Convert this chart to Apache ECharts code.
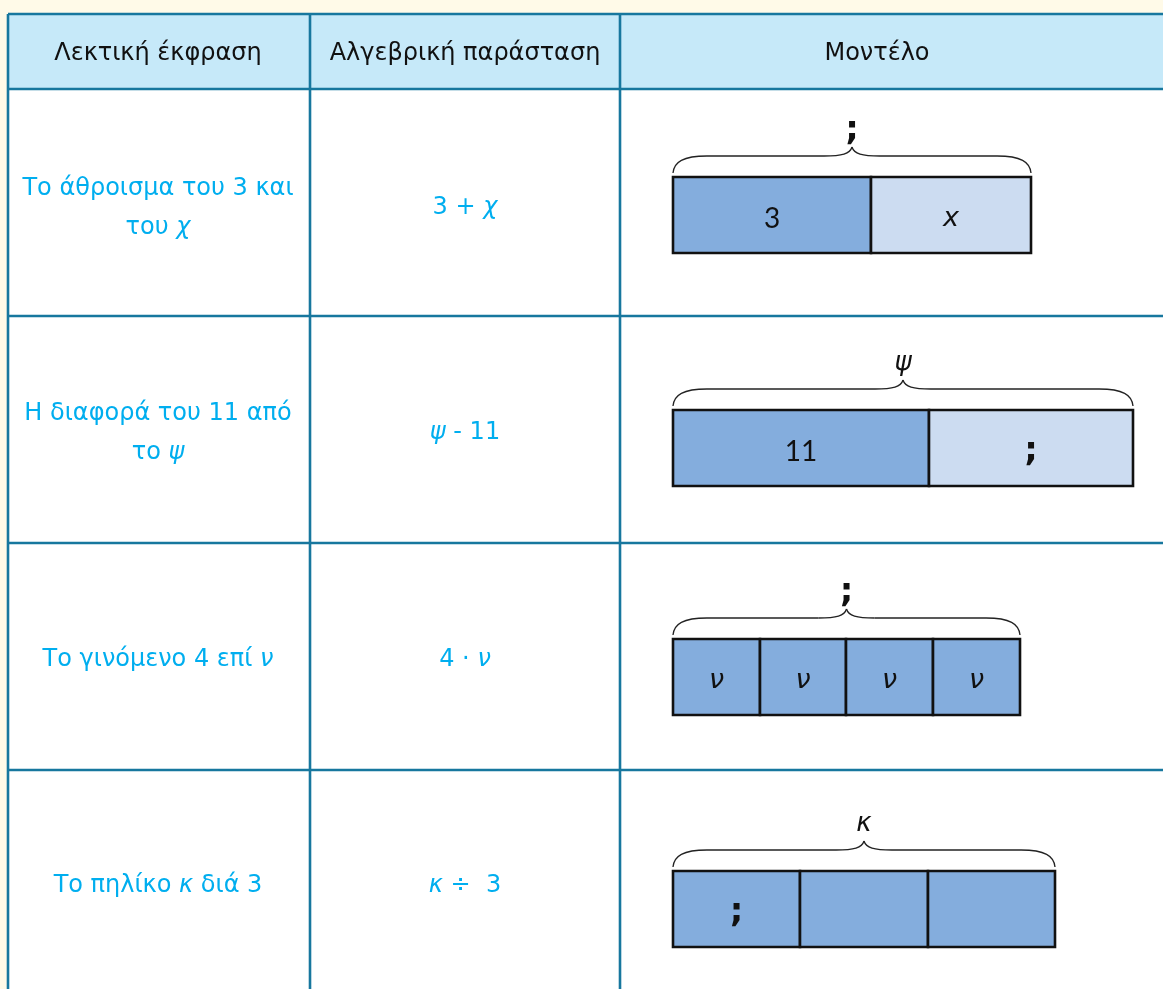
<!DOCTYPE html>
<html><head><meta charset="utf-8">
<script src="https://cdn.jsdelivr.net/npm/echarts@6/dist/echarts.min.js"></script>
<style>html,body{margin:0;padding:0;background:#FFFAE8;}#c{width:1163px;height:989px;}</style>
</head><body><div id="c"></div>
<script>
// ---- data ----
const headers = ['Λεκτική έκφραση', 'Αλγεβρική παράσταση', 'Μοντέλο'];
const verbal = ['Το άθροισμα του 3 και\nτου {i|χ}', 'Η διαφορά του 11 από\nτο {i|ψ}', 'Το γινόμενο 4 επί {i|ν}', 'Το πηλίκο {i|κ} διά 3'];
const algebraic = ['3 + {i|χ}', '{i|ψ} - 11', '4 · {i|ν}', '{i|κ} ÷  3'];
const segmentWidths = [[198, 160], [256, 204], [87, 86, 87, 87], [127, 128, 127]];
const segmentLabels = [['3', 'x'], ['11', ';'], ['ν', 'ν', 'ν', 'ν'], [';', '', '']];
const segmentKnown = [[1, 0], [1, 0], [1, 1, 1, 1], [1, 1, 1]];
const braceLabels = [';', 'ψ', ';', 'κ'];

// ---- layout ----
const W = 1163, H = 989;
const FONT = 'DejaVu Sans';
const BLUE = '#00AEEF';
const LINE = '#17779E';
const colLines = [8, 310, 620];
const colCenters = [158, 465, 877];
const rowLines = [14, 89, 316, 543, 770];
const textY = [208, 433, 660, 886];
const barX0 = 673, barH = 76;
const barTops = [177, 410, 639, 871];

const segData = [];
segmentWidths.forEach((ws, m) => {
  let s = barX0;
  ws.forEach((w, k) => { segData.push([m, k, s, w, segmentKnown[m][k]]); s += w; });
});
const braceData = segmentWidths.map((ws, m) => [m, barX0, ws.reduce((a, b) => a + b, 0)]);
const rowData = verbal.map((v, i) => [i]);

const graphics = [
  { type: 'rect', shape: { x: colLines[0], y: rowLines[0], width: W, height: H }, style: { fill: '#fff' }, z: -10 },
  { type: 'rect', shape: { x: colLines[0], y: rowLines[0], width: W, height: rowLines[1] - rowLines[0] }, style: { fill: '#C6E9F9' }, z: -9 }
];
colLines.forEach(x => graphics.push({ type: 'line', shape: { x1: x, y1: rowLines[0], x2: x, y2: H + 5 }, style: { stroke: LINE, lineWidth: 2.6 } }));
rowLines.forEach(y => graphics.push({ type: 'line', shape: { x1: colLines[0], y1: y, x2: W + 5, y2: y }, style: { stroke: LINE, lineWidth: 2.6 } }));
headers.forEach((h, i) => graphics.push({ type: 'text', x: colCenters[i], y: (rowLines[0] + rowLines[1]) / 2 + 2, style: { text: h, fill: '#111', font: '24px "' + FONT + '"', align: 'center', verticalAlign: 'middle' } }));

function labelStyle(t) {
  if (t === ';') return { fontSize: 34, fontWeight: 'bold', fontStyle: 'normal', fontFamily: FONT };
  if (/^[0-9]+$/.test(t)) return { fontSize: 28, fontWeight: 'normal', fontStyle: 'normal', fontFamily: 'Lato' };
  return { fontSize: 27, fontWeight: 'normal', fontStyle: 'italic', fontFamily: FONT };
}

const option = {
  backgroundColor: '#FFFAE8',
  animation: false,
  grid: { left: 0, right: 0, top: 0, bottom: 0, containLabel: false },
  xAxis: { type: 'value', min: 0, max: W, show: false },
  yAxis: { type: 'value', min: 0, max: H, inverse: true, show: false },
  graphic: graphics,
  series: [
    {
      type: 'custom', data: rowData, silent: true,
      renderItem: (params, api) => {
        const r = api.value(0);
        const p1 = api.coord([colCenters[0], textY[r]]);
        const p2 = api.coord([colCenters[1], textY[r]]);
        const rich = { i: { fontStyle: 'italic', fontSize: 24, fontFamily: FONT, fill: BLUE, lineHeight: 39 } };
        return { type: 'group', children: [
          { type: 'text', x: p1[0], y: p1[1], style: { text: verbal[r], rich, fill: BLUE, fontSize: 24, fontFamily: FONT, lineHeight: 39, align: 'center', verticalAlign: 'middle' } },
          { type: 'text', x: p2[0], y: p2[1], style: { text: algebraic[r], rich, fill: BLUE, fontSize: 24, fontFamily: FONT, lineHeight: 39, align: 'center', verticalAlign: 'middle' } }
        ] };
      }
    },
    {
      type: 'custom', data: segData, silent: true,
      renderItem: (params, api) => {
        const m = api.value(0), k = api.value(1), s = api.value(2), w = api.value(3), known = api.value(4);
        const a = api.coord([s, barTops[m]]);
        const b = api.coord([s + w, barTops[m] + barH]);
        const t = segmentLabels[m][k];
        const ls = labelStyle(t);
        return { type: 'group', children: [
          { type: 'rect', shape: { x: a[0], y: a[1], width: b[0] - a[0], height: b[1] - a[1] }, style: { fill: known ? '#84ADDD' : '#CCDCF1', stroke: '#111', lineWidth: 2.6 } },
          { type: 'text', x: (a[0] + b[0]) / 2, y: (a[1] + b[1]) / 2 + 4, style: { text: t, fill: '#111', fontFamily: ls.fontFamily, fontSize: ls.fontSize, fontWeight: ls.fontWeight, fontStyle: ls.fontStyle, align: 'center', verticalAlign: 'middle' } }
        ] };
      }
    },
    {
      type: 'custom', data: braceData, silent: true,
      renderItem: (params, api) => {
        const m = api.value(0), x0v = api.value(1), wv = api.value(2);
        const top = barTops[m];
        const L = api.coord([x0v, top - 4]);
        const R = api.coord([x0v + wv, top - 4]);
        const F = api.coord([x0v, top - 21]);
        const P = api.coord([x0v + wv / 2, top - 30]);
        const x0 = L[0], x1 = R[0], yE = L[1], yF = F[1], mx = P[0], yP = P[1];
        const st = { stroke: '#222', lineWidth: 1.3, fill: null };
        const t = braceLabels[m];
        const ls = labelStyle(t);
        const lab = api.coord([x0v + wv / 2, top - (t === ';' ? 46 : 47)]);
        return { type: 'group', children: [
          { type: 'bezierCurve', shape: { x1: x0, y1: yE, cpx1: x0 + 1, cpy1: yF + 6, cpx2: x0 + 10, cpy2: yF, x2: x0 + 34, y2: yF }, style: st },
          { type: 'line', shape: { x1: x0 + 34, y1: yF, x2: mx - 28, y2: yF }, style: st },
          { type: 'bezierCurve', shape: { x1: mx - 28, y1: yF, cpx1: mx - 10, cpy1: yF, cpx2: mx - 2, cpy2: yF - 2, x2: mx, y2: yP }, style: st },
          { type: 'bezierCurve', shape: { x1: x1, y1: yE, cpx1: x1 - 1, cpy1: yF + 6, cpx2: x1 - 10, cpy2: yF, x2: x1 - 34, y2: yF }, style: st },
          { type: 'line', shape: { x1: x1 - 34, y1: yF, x2: mx + 28, y2: yF }, style: st },
          { type: 'bezierCurve', shape: { x1: mx + 28, y1: yF, cpx1: mx + 10, cpy1: yF, cpx2: mx + 2, cpy2: yF - 2, x2: mx, y2: yP }, style: st },
          { type: 'text', x: lab[0], y: lab[1], style: { text: t, fill: '#111', fontFamily: ls.fontFamily, fontSize: t === ';' ? ls.fontSize : 26, fontWeight: ls.fontWeight, fontStyle: ls.fontStyle, align: 'center', verticalAlign: 'middle' } }
        ] };
      }
    }
  ]
};
const chart = echarts.init(document.getElementById('c'), null, { renderer: 'canvas' });
chart.setOption(option);
</script>
</body></html>
